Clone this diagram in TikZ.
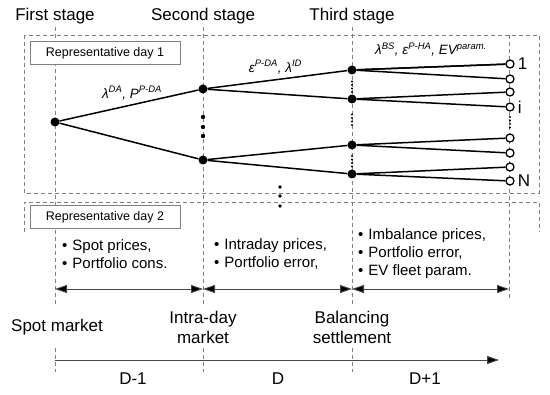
\documentclass[tikz,border=0pt]{standalone}
\usepackage{fontspec}
\setmainfont{Liberation Sans}
\usetikzlibrary{arrows.meta, positioning, calc}
\definecolor{guidegray}{RGB}{128, 128, 128}
\definecolor{spangray}{RGB}{70, 70, 70}
\tikzset{
    guide/.style={draw=guidegray, dash pattern=on 4pt off 3pt, line width=0.8pt},
    branch/.style={draw, line width=1.5pt},
    knot/.style={circle, fill, inner sep=0pt, minimum size=9pt},
    leaf/.style={circle, draw, fill=white, line width=1.3pt, inner sep=0pt, minimum size=8pt},
    daybox/.style={rectangle, draw=guidegray, fill=white, line width=0.8pt, minimum width=150pt, minimum height=23pt, font=\fontsize{12.5}{15}\selectfont},
    bigtext/.style={font=\fontsize{17}{20}\selectfont, align=center, inner sep=0pt},
    edgetext/.style={font=\fontsize{13.5}{16}\selectfont\itshape, inner sep=1pt},
    listtext/.style={font=\fontsize{15}{18}\selectfont, align=left, anchor=west, inner sep=0pt}
}
\newcommand{\itembullet}{•\hspace{5pt}}
\begin{document}
\begin{tikzpicture}[
    x=1pt, y=-1pt,
    span/.style={draw=spangray, line width=0.9pt, {Triangle[length=12pt, width=8pt, fill=black]}-{Triangle[length=12pt, width=8pt, fill=black]}},
    timeline/.style={draw=spangray, line width=0.9pt, -{Triangle[length=12pt, width=8pt, fill=black]}}
]
    \useasboundingbox (0,0) rectangle (550,395);

    % representative days
    \draw[guide] (24,232) -- (24,202) -- (539,202) -- (539,232);
    \draw[guide] (24,35) rectangle (539,193);
    \foreach \x in {55, 203, 352} \draw[guide] (\x,27) -- (\x,304);
    \draw[guide] (509,35) -- (509,300);
    \foreach \x in {55, 203, 352} \draw[guide] (\x,348) -- (\x,372);

    \node[daybox] (day1) at (105,53) {Representative day 1};
    \node[daybox] (day2) at (105,217) {Representative day 2};
    \foreach \y in {187, 196, 206} \fill (280,\y) circle (1.8pt);

    % stages
    \node[bigtext] (first) at (55,16) {First stage};
    \node[bigtext] (second) at (203,16) {Second stage};
    \node[bigtext] (third) at (352,16) {Third stage};

    % scenario tree
    \node[knot] (root) at (55,122) {};
    \node[knot] (s1) at (203,89) {};
    \node[knot] (s2) at (203,160) {};
    \node[knot] (t1) at (352,70) {};
    \node[knot] (t2) at (352,99) {};
    \node[knot] (t3) at (352,145) {};
    \node[knot] (t4) at (352,174) {};
    \foreach \n/\y in {1/64, 2/79, 3/92, 4/107, 5/138, 6/153, 7/167, 8/181}
        \node[leaf] (l\n) at (510,\y) {};

    \draw[branch] (root) -- node[edgetext, midway, above=4pt, xshift=3pt] {λ\textsuperscript{DA}, P\textsuperscript{P-DA}} (s1);
    \draw[branch] (root) -- (s2);
    \draw[branch] (s1) -- node[edgetext, midway, above=4pt, xshift=-2pt] {ε\textsuperscript{P-DA}, λ\textsuperscript{ID}} (t1);
    \draw[branch] (s1) -- (t2);
    \draw[branch] (s2) -- (t3);
    \draw[branch] (s2) -- (t4);
    \draw[branch] (t1) -- node[edgetext, midway, above=9pt] {λ\textsuperscript{BS}, ε\textsuperscript{P-HA}, EV\textsuperscript{param.}} (l1);
    \foreach \t/\a/\b in {t1/l1/l2, t2/l3/l4, t3/l5/l6, t4/l7/l8} {
        \draw[branch] (\t) -- (\a);
        \draw[branch] (\t) -- (\b);
    }

    \foreach \y in {117, 127, 136} \fill (203,\y) circle (2.2pt);
    \foreach \y in {81.5, 85, 88.5, 92, 114.5, 118, 121.5, 125, 156, 159.5, 163, 166.5} \fill (352,\y) circle (1.1pt);
    \foreach \y in {117, 120.5, 124, 127.5} \fill (510,\y) circle (1.1pt);

    \node[bigtext, right=3pt of l1] {1};
    \node[bigtext, right=3pt of l4] {i};
    \node[bigtext, right=3pt of l8] {N};

    % information per stage
    \node[listtext] (info1) at (62,254) {\itembullet Spot prices,\\\itembullet Portfolio cons.};
    \node[listtext] (info2) at (214,254) {\itembullet Intraday prices,\\\itembullet Portfolio error,};
    \node[listtext] (info3) at (358,254) {\itembullet Imbalance prices,\\\itembullet Portfolio error,\\\itembullet EV fleet param.};

    \coordinate (spot) at (55,289);
    \coordinate (intra) at (203,289);
    \coordinate (bal) at (352,289);
    \coordinate (close) at (509,289);
    \draw[span] (spot) -- (intra);
    \draw[span] (intra) -- (bal);
    \draw[span] (bal) -- (close);

    % markets
    \node[bigtext] (spotm) at (57,327) {Spot market};
    \node[bigtext] (intram) at (203,327) {Intra-day\\market};
    \node[bigtext] (balm) at (352,327) {Balancing\\settlement};

    % days
    \coordinate (tstart) at (55,360);
    \coordinate (tend) at (499,360);
    \draw[timeline] (tstart) -- (tend);
    \node[bigtext] (dm1) at (133,379) {D-1};
    \node[bigtext] (d0) at (278,379) {D};
    \node[bigtext] (dp1) at (425,379) {D+1};
\end{tikzpicture}
\end{document}
